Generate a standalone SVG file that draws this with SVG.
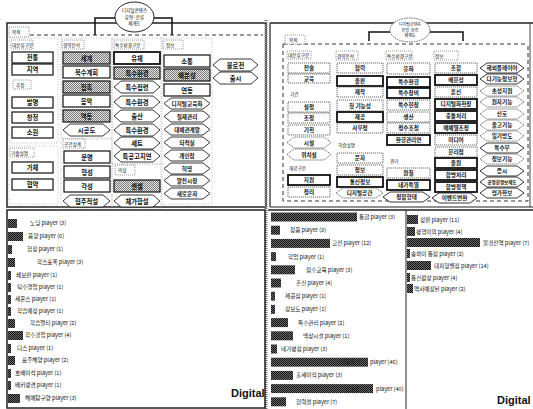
<svg xmlns="http://www.w3.org/2000/svg" width="533" height="409" viewBox="0 0 533 409">
<defs>
<pattern id="dk" width="2" height="2" patternUnits="userSpaceOnUse"><rect width="2" height="2" fill="#6a6a6a"/><rect width="1" height="1" fill="#111"/><rect x="1" y="1" width="1" height="1" fill="#111"/></pattern>
<pattern id="lt" width="2" height="2" patternUnits="userSpaceOnUse"><rect width="2" height="2" fill="#e8e8e8"/><rect width="1" height="1" fill="#777"/><rect x="1" y="1" width="1" height="1" fill="#777"/></pattern>
</defs>
<style>
text{font-family:"Noto Sans CJK KR","Noto Sans",sans-serif;fill:#111}
.t{font-size:6.3px;text-anchor:middle;font-weight:bold}
.t2{font-size:5.6px;text-anchor:middle;font-weight:bold}
.s{font-size:4.6px}
.r{font-size:5.6px}
.b{fill:#fff;stroke:#111;stroke-width:1.2}
.bk{fill:#fff;stroke:#111;stroke-width:1.8}
.bs{fill:url(#lt);stroke:#111;stroke-width:1.2}
.bd{fill:#fff;stroke:#444;stroke-width:0.8;stroke-dasharray:1.2,0.8}
.h{fill:#fff;stroke:#222;stroke-width:0.9}
.hd{fill:#fff;stroke:#444;stroke-width:0.8;stroke-dasharray:1.2,0.8}
.lb{fill:#fff;stroke:#555;stroke-width:0.6;stroke-dasharray:1,1}
.grp{fill:none;stroke:#999;stroke-width:0.6;stroke-dasharray:1,1.5}
.bar{fill:url(#dk)}
.fr{fill:none;stroke:#222;stroke-width:1.5}
.dash{fill:none;stroke:#333;stroke-width:1;stroke-dasharray:4,3}
.br{fill:none;stroke:#111;stroke-width:1.5}
.dig{font-family:"Liberation Sans",sans-serif;font-size:11px;font-weight:bold}
</style>
<rect width="533" height="409" fill="#fff"/>

<!-- ===== Top-left panel ===== -->
<g id="tl-frame">
<rect class="fr" x="7" y="23" width="259" height="184"/>
<line x1="266" y1="20" x2="266" y2="409" stroke="#777" stroke-width="3" stroke-dasharray="1,1"/>
<line class="dash" x1="9" y1="35" x2="263" y2="35"/>
<rect class="grp" x="9" y="38" width="49" height="105"/>
<rect class="grp" x="9" y="146" width="49" height="58"/>
<rect class="grp" x="61" y="38" width="51" height="100"/>
<rect class="grp" x="61" y="139" width="51" height="69"/>
<rect class="grp" x="112" y="38" width="50" height="126"/>
<rect class="grp" x="112" y="164" width="50" height="44"/>
<rect class="grp" x="161" y="38" width="51" height="166"/>
</g>
<g id="connectors">
<path class="br" d="M115,18 H95 V35 M154,18 H172 V35"/>
<path class="br" d="M390,32 H369 V41 M430,32 H463 V41"/>
</g>
<g id="tl-root">
<ellipse cx="134.5" cy="17" rx="19.5" ry="15" fill="#fff" stroke="#222" stroke-width="1"/>
<text class="s" x="134.5" y="12" text-anchor="middle">디지털콘텐츠</text>
<text class="s" x="134.5" y="18.5" text-anchor="middle">유형·분류</text>
<text class="s" x="134.5" y="25" text-anchor="middle">체계도</text>
</g>
<g id="tl-purpose"><rect class="lb" x="9" y="27" width="20" height="10"/><text class="s" x="12" y="34">목적</text></g>

<!-- column 1 -->
<g id="tl-c1">
<rect class="lb" x="11" y="40" width="22" height="9"/><text class="s" x="12" y="46.5">대분류구분</text>
<rect class="b" x="12" y="52" width="41" height="11"/><text class="t" x="32.5" y="60">전통</text>
<rect class="b" x="12" y="64" width="41" height="11"/><text class="t" x="32.5" y="72">지역</text>
<rect class="lb" x="13" y="80" width="18" height="9"/><text class="s" x="16" y="86.5">추정</text>
<rect class="b" x="12" y="97" width="41" height="11"/><text class="t" x="32.5" y="105">발명</text>
<rect class="b" x="12" y="112" width="41" height="11"/><text class="t" x="32.5" y="120">창정</text>
<rect class="b" x="12" y="127" width="41" height="11"/><text class="t" x="32.5" y="135">소원</text>
<rect class="lb" x="10" y="148" width="24" height="9"/><text class="s" x="11" y="154.5">기술설명</text>
<rect class="b" x="12" y="162" width="41" height="11"/><text class="t" x="32.5" y="170">가체</text>
<rect class="b" x="12" y="179" width="41" height="11"/><text class="t" x="32.5" y="187">협약</text>
</g>
<!-- column 2 -->
<g id="tl-c2">
<rect class="lb" x="62" y="40" width="22" height="9"/><text class="s" x="63" y="46.5">경영분석</text>
<rect class="bs" x="63" y="52" width="47" height="12"/><text class="t" x="86.5" y="60.5">세계</text>
<rect class="b" x="63" y="66" width="47" height="12"/><text class="t" x="86.5" y="74.5">북수계회</text>
<rect class="bs" x="63" y="81" width="47" height="12"/><text class="t" x="86.5" y="89.5">접촉</text>
<rect class="b" x="63" y="95" width="47" height="12"/><text class="t" x="86.5" y="103.5">음악</text>
<rect class="bs" x="63" y="110" width="47" height="12"/><text class="t" x="86.5" y="118.5">역동</text>
<polygon class="h" points="63,130 70,124 103,124 110,130 103,136 70,136"/><text class="t" x="86.5" y="132.5">시공도</text>
<rect class="lb" x="63" y="139" width="22" height="9"/><text class="s" x="64" y="145.5">공간설계</text>
<rect class="b" x="64" y="151" width="46" height="12"/><text class="t" x="87" y="159.5">문명</text>
<rect class="b" x="64" y="166" width="46" height="12"/><text class="t" x="87" y="174.5">형성</text>
<rect class="b" x="64" y="180" width="46" height="12"/><text class="t" x="87" y="188.5">각성</text>
<polygon class="h" points="63,201 70,195 103,195 110,201 103,207 70,207"/><text class="t" x="86.5" y="203.5">협주적설</text>
</g>
<!-- column 3 -->
<g id="tl-c3">
<rect class="lb" x="114" y="40" width="30" height="9"/><text class="s" x="115" y="46.5">특수환경구분</text>
<rect class="bk" x="114" y="52" width="46" height="12"/><text class="t" x="137" y="60.5">유체</text>
<rect class="bs" x="114" y="67" width="46" height="12"/><text class="t" x="137" y="75.5">특수환경</text>
<polygon class="h" points="114,87 121,81 153,81 160,87 153,93 121,93"/><text class="t" x="137" y="89.5">특수접령</text>
<polygon class="h" points="114,102 121,96 153,96 160,102 153,108 121,108"/><text class="t" x="137" y="104.5">특수환경</text>
<polygon class="h" points="114,116 121,110 153,110 160,116 153,122 121,122"/><text class="t" x="137" y="118.5">출산</text>
<polygon class="h" points="114,130 121,124 153,124 160,130 153,136 121,136"/><text class="t" x="137" y="132.5">특수환경</text>
<polygon class="h" points="114,143 121,137 153,137 160,143 153,149 121,149"/><text class="t" x="137" y="145.5">세트</text>
<polygon class="h" points="114,156 121,150 153,150 160,156 153,162 121,162"/><text class="t" x="137" y="158.5">특공고지연</text>
<rect class="lb" x="115" y="165" width="20" height="10"/><text class="s" x="118" y="172">역설</text>
<rect class="bs" x="114" y="180" width="46" height="12"/><text class="t" x="137" y="188.5">센셀</text>
<polygon class="h" points="114,201 121,195 153,195 160,201 153,207 121,207"/><text class="t" x="137" y="203.5">체가합설</text>
</g>
<!-- column 4 -->
<g id="tl-c4">
<rect class="lb" x="163" y="40" width="20" height="9"/><text class="s" x="166" y="46.5">정보</text>
<rect class="b" x="164" y="55" width="46" height="12"/><text class="t" x="187" y="63.5">소통</text>
<rect class="bs" x="164" y="69" width="46" height="12"/><text class="t" x="187" y="77.5">배분성</text>
<rect class="b" x="164" y="84" width="46" height="12"/><text class="t" x="187" y="92.5">연동</text>
<polygon class="h" points="164,103.5 171,98 203,98 210,103.5 203,109 171,109"/><text class="t2" x="187" y="105.5">디지털교육화</text>
<polygon class="h" points="164,116.5 171,111 203,111 210,116.5 203,122 171,122"/><text class="t2" x="187" y="118.5">절제관리</text>
<polygon class="h" points="164,129.5 171,124 203,124 210,129.5 203,135 171,135"/><text class="t2" x="187" y="131.5">대체관계발</text>
<polygon class="h" points="164,142.5 171,137 203,137 210,142.5 203,148 171,148"/><text class="t2" x="187" y="144.5">되적실</text>
<polygon class="h" points="164,155.5 171,150 203,150 210,155.5 203,161 171,161"/><text class="t2" x="187" y="157.5">개인참</text>
<polygon class="h" points="164,168.5 171,163 203,163 210,168.5 203,174 171,174"/><text class="t2" x="187" y="170.5">혁명</text>
<polygon class="h" points="164,180.5 171,175 203,175 210,180.5 203,186 171,186"/><text class="t2" x="187" y="182.5">발전시장</text>
<polygon class="h" points="164,193.5 171,188 203,188 210,193.5 203,199 171,199"/><text class="t2" x="187" y="195.5">새로운자</text>
</g>
<!-- column 5 -->
<g id="tl-c5">
<polygon class="h" points="213,65 220,59 251,59 258,65 251,71 220,71"/><text class="t" x="235.5" y="67.5">블로전</text>
<polygon class="h" points="213,78 220,72 251,72 258,78 251,84 220,84"/><text class="t" x="235.5" y="80.5">출시</text>
</g>

<!-- ===== Top-right panel ===== -->
<g id="tr-frame">
<line x1="270" y1="23" x2="533" y2="23" stroke="#222" stroke-width="1.5"/>
<line x1="270" y1="23" x2="270" y2="207" stroke="#222" stroke-width="1.2"/>
<line x1="270" y1="207" x2="533" y2="207" stroke="#222" stroke-width="1.2"/>
<line x1="530" y1="23" x2="530" y2="207" stroke="#444" stroke-width="1"/>
<line class="dash" x1="283" y1="44" x2="528" y2="44"/>
<path class="dash" d="M283,44 V201 H528 V44"/>
</g>
<g id="tr-root">
<ellipse cx="410" cy="30" rx="20" ry="12" fill="#fff" stroke="#333" stroke-width="0.8" stroke-dasharray="1.5,1"/>
<text class="s" x="410" y="26" text-anchor="middle" style="font-size:4px">디지털콘텐츠</text>
<text class="s" x="410" y="31.5" text-anchor="middle" style="font-size:4px">유형·분류</text>
<text class="s" x="410" y="37" text-anchor="middle" style="font-size:4px">체계도</text>
</g>
<g id="tr-purpose"><rect class="lb" x="285" y="35" width="20" height="9"/><text class="s" x="289" y="41.5">목적</text></g>
<!-- col A -->
<g id="tr-c1">
<rect class="lb" x="287" y="51" width="24" height="8"/><text class="s" x="288" y="57">대분류구분</text>
<rect class="bd" x="288" y="63" width="42" height="10"/><text class="t2" x="309" y="70">전술</text>
<rect class="bd" x="288" y="74" width="42" height="9"/><text class="t2" x="309" y="80.5">교육</text>
<text class="s" x="290" y="96">기간</text>
<rect class="bd" x="288" y="102" width="42" height="10"/><text class="t2" x="309" y="109">설정</text>
<rect class="bd" x="288" y="113" width="42" height="10"/><text class="t2" x="309" y="120">조정</text>
<rect class="bd" x="288" y="125" width="42" height="10"/><text class="t2" x="309" y="132">기획</text>
<polygon class="hd" points="287,142.5 294,137 324,137 331,142.5 324,148 294,148"/><text class="t2" x="309" y="144.5">시설</text>
<polygon class="hd" points="287,154.5 294,149 324,149 331,154.5 324,160 294,160"/><text class="t2" x="309" y="156.5">위치설</text>
<text class="s" x="289" y="170">재료구분</text>
<rect class="bk" x="288" y="175" width="42" height="10"/><text class="t2" x="309" y="182">지원</text>
<rect class="bd" x="288" y="187" width="42" height="10"/><text class="t2" x="309" y="194">정리</text>
</g>
<!-- col B -->
<g id="tr-c2">
<rect class="lb" x="336" y="51" width="22" height="9"/><text class="s" x="337" y="57.5">경영분석</text>
<rect class="bd" x="337" y="63" width="46" height="10"/><text class="t2" x="360" y="70">협력</text>
<rect class="bk" x="337" y="76" width="46" height="10"/><text class="t2" x="360" y="83">출판</text>
<rect class="bd" x="337" y="87" width="46" height="10"/><text class="t2" x="360" y="94">제작</text>
<rect class="bd" x="337" y="100" width="46" height="11"/><text class="t2" x="360" y="107.5">첫 기능성</text>
<rect class="bk" x="337" y="112" width="46" height="10"/><text class="t2" x="360" y="119">제공</text>
<rect class="bd" x="337" y="123" width="46" height="10"/><text class="t2" x="360" y="130">사무정</text>
<text class="s" x="338" y="147">학습설명</text>
<rect class="bd" x="337" y="153" width="46" height="10"/><text class="t2" x="360" y="160">문자</text>
<rect class="bd" x="337" y="165" width="46" height="10"/><text class="t2" x="360" y="172">정보</text>
<rect class="bk" x="337" y="177" width="46" height="10"/><text class="t2" x="360" y="184">통신정보</text>
<polygon class="hd" points="336,193 343,188 376,188 383,193 376,198 343,198"/><text class="t2" x="359.5" y="195">디지털공간</text>
</g>
<!-- col C -->
<g id="tr-c3">
<rect class="lb" x="386" y="51" width="26" height="9"/><text class="s" x="387" y="57.5">특수환경구분</text>
<rect class="bd" x="387" y="63" width="43" height="11"/><text class="t2" x="408.5" y="70.5">유화</text>
<rect class="bk" x="387" y="77" width="43" height="10"/><text class="t2" x="408.5" y="84">특수환경</text>
<rect class="bk" x="387" y="88" width="43" height="10"/><text class="t2" x="408.5" y="95">특수장비</text>
<rect class="bd" x="387" y="100" width="43" height="10"/><text class="t2" x="408.5" y="107">특수현장</text>
<rect class="bd" x="387" y="112" width="43" height="10"/><text class="t2" x="408.5" y="119">생산</text>
<rect class="bd" x="387" y="123" width="43" height="10"/><text class="t2" x="408.5" y="130">정수조정</text>
<rect class="bk" x="387" y="135" width="43" height="10"/><text class="t2" x="408.5" y="142">환경관리연</text>
<text class="s" x="390" y="163">관리</text>
<rect class="bd" x="387" y="168" width="43" height="10"/><text class="t2" x="408.5" y="175">원칠</text>
<rect class="bk" x="387" y="180" width="43" height="10"/><text class="t2" x="408.5" y="187">네가특별</text>
<polygon class="h" points="383,197 390,192 423,192 430,197 423,202 390,202"/><text class="t2" x="406.5" y="199">정합형태</text>
</g>
<!-- col D -->
<g id="tr-c4">
<rect class="lb" x="434" y="51" width="24" height="9"/><text class="s" x="435" y="57.5">정보</text>
<rect class="bd" x="435" y="63" width="42" height="10"/><text class="t2" x="456" y="70">조합</text>
<rect class="bk" x="435" y="75" width="42" height="10"/><text class="t2" x="456" y="82">배분성</text>
<rect class="bd" x="435" y="87" width="42" height="10"/><text class="t2" x="456" y="94">혼신</text>
<rect class="bk" x="435" y="99" width="42" height="10"/><text class="t2" x="456" y="106">디지털화확장</text>
<rect class="bk" x="435" y="111" width="42" height="10"/><text class="t2" x="456" y="118">충돌처리</text>
<rect class="bk" x="435" y="123" width="42" height="10"/><text class="t2" x="456" y="130">매체별조정</text>
<rect class="bd" x="435" y="135" width="42" height="10"/><text class="t2" x="456" y="142">미디어</text>
<rect class="bd" x="435" y="147" width="42" height="10"/><text class="t2" x="456" y="154">분리점</text>
<rect class="bk" x="435" y="158" width="42" height="10"/><text class="t2" x="456" y="165">출원</text>
<rect class="bk" x="435" y="170" width="42" height="10"/><text class="t2" x="456" y="177">합병처리</text>
<rect class="bk" x="435" y="182" width="42" height="10"/><text class="t2" x="456" y="189">합병정책</text>
<polygon class="h" points="432,198 439,193 470,193 477,198 470,203 439,203"/><text class="t2" x="454.5" y="200">이벤트변환</text>
</g>
<!-- col E -->
<g id="tr-c5">
<polygon class="h" points="480,68 487,63 517,63 524,68 517,73 487,73"/><text class="t2" x="502" y="70">해외플레이어</text>
<polygon class="h" points="480,79 487,74 517,74 524,79 517,84 487,84"/><text class="t2" x="502" y="81">다기능정보형</text>
<polygon class="hd" points="480,91 487,86 517,86 524,91 517,96 487,96"/><text class="t2" x="502" y="93">초성지원</text>
<polygon class="hd" points="480,102 487,97 517,97 524,102 517,107 487,107"/><text class="t2" x="502" y="104">원자기능</text>
<polygon class="hd" points="480,114 487,109 517,109 524,114 517,119 487,119"/><text class="t2" x="502" y="116">신호</text>
<polygon class="hd" points="480,125 487,120 517,120 524,125 517,130 487,130"/><text class="t2" x="502" y="127">출고기능</text>
<polygon class="hd" points="480,136 487,131 517,131 524,136 517,141 487,141"/><text class="t2" x="502" y="138">일기방도</text>
<polygon class="h" points="480,148 487,143 517,143 524,148 517,153 487,153"/><text class="t2" x="502" y="150">특수부</text>
<polygon class="hd" points="480,159 487,154 517,154 524,159 517,164 487,164"/><text class="t2" x="502" y="161">정보기능</text>
<polygon class="h" points="480,171 487,166 517,166 524,171 517,176 487,176"/><text class="t2" x="502" y="173">증시</text>
<polygon class="h" points="480,182 487,177 517,177 524,182 517,187 487,187"/><text class="t2" x="502" y="184" style="font-size:4.6px">공정한정보제도</text>
<polygon class="h" points="480,193 487,188 517,188 524,193 517,198 487,198"/><text class="t2" x="502" y="195">평가확보</text>
</g>

<!-- ===== Bottom-left chart ===== -->
<g id="bl-chart">
<rect class="fr" x="7" y="210" width="258" height="198"/>
<rect class="bar" x="8" y="219" width="9" height="9"/><text class="r" x="30" y="225">노딩 player (3)</text>
<rect class="bar" x="8" y="232" width="15" height="9"/><text class="r" x="28" y="238">음향 player (6)</text>
<rect class="bar" x="8" y="245" width="4" height="9"/><text class="r" x="27" y="251">협정 player (1)</text>
<rect class="bar" x="8" y="258" width="7" height="9"/><text class="r" x="37" y="264">학스표록 player (3)</text>
<rect class="bar" x="8" y="271" width="3" height="9"/><text class="r" x="16" y="277">쇄보판 player (1)</text>
<rect class="bar" x="8" y="283" width="3" height="9"/><text class="r" x="17" y="289">틱수행업 player (1)</text>
<rect class="bar" x="8" y="295" width="3" height="9"/><text class="r" x="15" y="301">세운스 player (1)</text>
<rect class="bar" x="8" y="307" width="3" height="9"/><text class="r" x="17" y="313">학습예정 player (1)</text>
<rect class="bar" x="8" y="319" width="7" height="9"/><text class="r" x="30" y="325">학습멀티 player (2)</text>
<rect class="bar" x="8" y="331" width="15" height="9"/><text class="r" x="25" y="337">학수경업 player (4)</text>
<rect class="bar" x="8" y="344" width="3" height="9"/><text class="r" x="17" y="350">디스 player (1)</text>
<rect class="bar" x="8" y="356" width="7" height="9"/><text class="r" x="22" y="362">표주해양 player (2)</text>
<rect class="bar" x="8" y="369" width="3" height="9"/><text class="r" x="15" y="375">호배이석 player (1)</text>
<rect class="bar" x="8" y="381" width="3" height="9"/><text class="r" x="15" y="387">배커랭겸 player (1)</text>
<rect class="bar" x="8" y="394" width="12" height="9"/><text class="r" x="25" y="400">해예탐구양 player (3)</text>
<text class="dig" x="231" y="397">Digital</text>
</g>

<!-- ===== Bottom-right chart ===== -->
<g id="br-chart">
<line x1="268" y1="210" x2="533" y2="210" stroke="#222" stroke-width="1.5"/>
<line x1="406" y1="210" x2="406" y2="409" stroke="#222" stroke-width="1"/>
<rect class="bar" x="271" y="212.5" width="86" height="9"/><text class="r" x="359" y="219">통합 player (3)</text>
<rect class="bar" x="271" y="225.7" width="9" height="9"/><text class="r" x="290" y="232.2">청음 player (3)</text>
<rect class="bar" x="271" y="238.9" width="59" height="9"/><text class="r" x="332" y="245.4">고전 player (12)</text>
<rect class="bar" x="271" y="252.1" width="5" height="9"/><text class="r" x="288" y="258.6">학업 player (1)</text>
<rect class="bar" x="271" y="265.3" width="24" height="9"/><text class="r" x="306" y="271.8">첨수교육 player (3)</text>
<rect class="bar" x="271" y="278.5" width="10" height="9"/><text class="r" x="296" y="285">혼신 player (4)</text>
<rect class="bar" x="271" y="291.7" width="4" height="9"/><text class="r" x="285" y="298.2">제공점 player (1)</text>
<rect class="bar" x="271" y="304.9" width="4" height="9"/><text class="r" x="285" y="311.4">정보도 player (1)</text>
<rect class="bar" x="271" y="318.1" width="17" height="9"/><text class="r" x="298" y="324.6">특수관리 player (2)</text>
<rect class="bar" x="271" y="331.3" width="22" height="9"/><text class="r" x="303" y="337.8">맥상시설 player (1)</text>
<rect class="bar" x="271" y="344.5" width="6" height="9"/><text class="r" x="281" y="351">네가평점 player (3)</text>
<rect class="bar" x="271" y="357.7" width="97" height="9"/><text class="r" x="340" y="364.2" style="fill:#222">이동통신</text><text class="r" x="370" y="364.2">player (46)</text>
<rect class="bar" x="271" y="370.9" width="22" height="9"/><text class="r" x="296" y="377.4">출세이적 player (3)</text>
<rect class="bar" x="271" y="384.1" width="102" height="9"/><text class="r" x="345" y="390.6" style="fill:#222">스포츠</text><text class="r" x="376" y="390.6">player (40)</text>
<rect class="bar" x="271" y="397.3" width="15" height="9"/><text class="r" x="296" y="403.8">협력설 player (7)</text>

<rect class="bar" x="407" y="215" width="11" height="9"/><text class="r" x="420" y="221.5">정원 player (11)</text>
<rect class="bar" x="407" y="227" width="8" height="9"/><text class="r" x="416" y="233.5">평행이의 player (4)</text>
<rect class="bar" x="407" y="238" width="73" height="9"/><text class="r" x="483" y="244.5">불경전역 player (7)</text>
<rect class="bar" x="407" y="249" width="3" height="9"/><text class="r" x="411" y="255.5">송하미 통점 player (2)</text>
<rect class="bar" x="407" y="261" width="24" height="9"/><text class="r" x="434" y="267.5">대피형별점 player (14)</text>
<rect class="bar" x="407" y="273" width="3" height="9"/><text class="r" x="411" y="279.5">통신활상 player (4)</text>
<rect class="bar" x="407" y="284" width="6" height="9"/><text class="r" x="414" y="290.5">역사예정된 player (2)</text>
<text class="dig" x="497" y="404">Digital</text>
</g>
</svg>
